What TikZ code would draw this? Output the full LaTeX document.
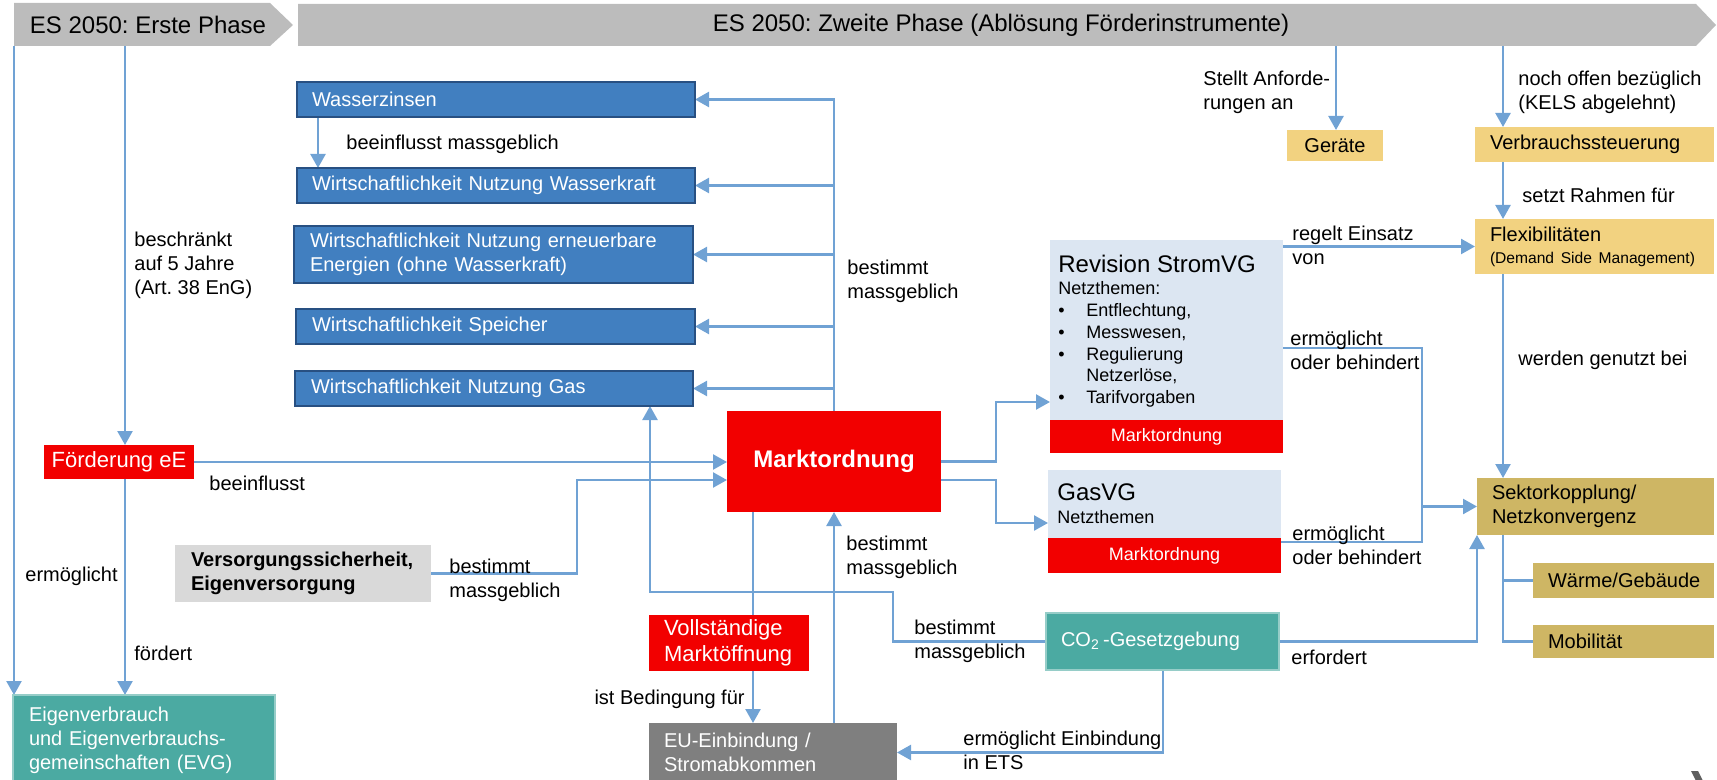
\documentclass[tikz,border=0pt]{standalone}
\usepackage{fontspec}
\setmainfont{Liberation Sans}
\frenchspacing
\usetikzlibrary{arrows.meta,calc,backgrounds}
\definecolor{connc}{RGB}{112,162,212}
\definecolor{boxblue}{RGB}{65,127,192}
\definecolor{boxblueD}{RGB}{40,80,130}
\definecolor{redc}{RGB}{242,0,0}
\definecolor{tealc}{RGB}{75,170,162}
\definecolor{tealB}{RGB}{150,205,200}
\definecolor{lightb}{RGB}{220,230,242}
\definecolor{grayEU}{RGB}{127,127,127}
\definecolor{grayV}{RGB}{217,217,217}
\definecolor{goldL}{RGB}{242,210,128}
\definecolor{goldD}{RGB}{206,182,100}
\definecolor{bannerc}{RGB}{188,188,188}
\definecolor{logoc}{RGB}{95,95,95}
\begin{document}
\begin{tikzpicture}[x=0.5pt,y=-0.5pt,
  conn/.style={draw=connc, line width=1.2pt},
  arr/.style={conn, -{Triangle[length=7pt,width=7.5pt]}},
  bx/.style={anchor=north west, inner sep=0pt, outer sep=0pt, font=\fontsize{10}{12}\selectfont},
  bluebox/.style={bx, fill=boxblue, draw=boxblueD, line width=1pt, text=white, align=left},
  redbox/.style={bx, fill=redc, text=white},
  tealbox/.style={bx, fill=tealc, draw=tealB, line width=1pt, text=white, align=left},
  goldl/.style={bx, fill=goldL, align=left},
  goldd/.style={bx, fill=goldD, align=left},
  lab/.style={anchor=west, inner sep=0pt, align=left, font=\fontsize{10}{12}\selectfont},
]
\useasboundingbox (0,0) rectangle (1717,780);
\clip (0,0) rectangle (1717,780);

% banner
\fill[bannerc] (14,3) -- (270,3) -- (293,25) -- (270,46) -- (14,46) -- cycle;
\fill[bannerc] (298,4) -- (1696,4) -- (1716,25) -- (1696,46) -- (298,46) -- cycle;
\node[font=\fontsize{12}{14}\selectfont, inner sep=0pt] (ph1) at (148,25) {ES 2050: Erste Phase};
\node[font=\fontsize{12}{14}\selectfont, inner sep=0pt] (ph2) at (1001,25) {ES 2050: Zweite Phase (Ablösung Förderinstrumente)};
\coordinate (b1) at (14,46);
\coordinate (b2) at (125,46);
\coordinate (b3) at (1336,46);
\coordinate (b4) at (1503,46);

% blue boxes
\node[bluebox, minimum width=199pt, minimum height=17.5pt, text width=184pt, inner xsep=7.5pt] (wz) at (297,82) {Wasserzinsen};
\node[bluebox, minimum width=199pt, minimum height=17.5pt, text width=184pt, inner xsep=7.5pt] (wk) at (297,168) {Wirtschaftlichkeit Nutzung Wasserkraft};
\node[bluebox, minimum width=199.5pt, minimum height=28.5pt, text width=183.5pt, inner xsep=8pt] (ee) at (294,226) {Wirtschaftlichkeit Nutzung erneuerbare\\Energien (ohne Wasserkraft)};
\node[bluebox, minimum width=199.5pt, minimum height=17.5pt, text width=183.5pt, inner xsep=8pt] (sp) at (296,309) {Wirtschaftlichkeit Speicher};
\node[bluebox, minimum width=199pt, minimum height=17.5pt, text width=183pt, inner xsep=8pt] (gas) at (295,371) {Wirtschaftlichkeit Nutzung Gas};

% left side
\node[redbox, minimum width=75pt, minimum height=17pt, font=\fontsize{11}{13}\selectfont] (fe) at (44,445) {Förderung eE};
\node[tealbox, minimum width=131pt, minimum height=45pt, text width=115pt, inner xsep=8pt] (evg) at (13,695) {Eigenverbrauch\\und Eigenverbrauchs-\\gemeinschaften (EVG)};
\node[bx, fill=grayV, align=left, minimum width=128pt, minimum height=28.5pt, text width=112pt, inner xsep=8pt, font=\fontsize{10}{12}\selectfont\bfseries] (vs) at (175,545) {Versorgungssicherheit,\\Eigenversorgung};

% centre
\node[redbox, minimum width=107pt, minimum height=50.5pt, font=\fontsize{12}{14}\selectfont\bfseries] (mo) at (727,411) {Marktordnung};
\node[redbox, align=left, minimum width=80pt, minimum height=28pt, text width=65pt, inner xsep=7.5pt, font=\fontsize{11}{13}\selectfont] (vm) at (649,615) {Vollständige\\Marktöffnung};
\node[bx, fill=grayEU, text=white, align=left, minimum width=124pt, minimum height=29.5pt, text width=109pt, inner xsep=7.5pt] (eu) at (649,723) {EU-Einbindung /\\Stromabkommen};
\node[tealbox, minimum width=116.5pt, minimum height=28.5pt, text width=101.5pt, inner xsep=7.5pt] (co) at (1046,613) {CO\textsubscript{2}\,-Gesetzgebung};

% StromVG
\node[bx, fill=lightb, minimum width=116.5pt, minimum height=90pt] (svb) at (1050,240) {};
\node[redbox, minimum width=116.5pt, minimum height=16.5pt, font=\fontsize{9}{11}\selectfont] (svr) at (1050,420) {Marktordnung};
\node[anchor=base west, inner sep=0pt, font=\fontsize{12}{14}\selectfont] (svt) at (1058,273) {Revision StromVG};
\node[anchor=base west, inner sep=0pt, font=\fontsize{9}{10.85}\selectfont] (svl) at (1058,295) {\begin{tabular}[t]{@{}p{14pt}@{}l@{}}\multicolumn{2}{@{}l@{}}{Netzthemen:}\\ \textbullet & Entflechtung,\\ \textbullet & Messwesen,\\ \textbullet & Regulierung\\ & Netzerlöse,\\ \textbullet & Tarifvorgaben\end{tabular}};

% GasVG
\node[bx, fill=lightb, minimum width=116.5pt, minimum height=34pt] (gasb) at (1048,470) {};
\node[redbox, minimum width=116.5pt, minimum height=17.5pt, font=\fontsize{9}{11}\selectfont] (gasr) at (1048,538) {Marktordnung};
\node[anchor=base west, inner sep=0pt, font=\fontsize{12}{14}\selectfont] (gast) at (1057,500) {GasVG};
\node[anchor=base west, inner sep=0pt, font=\fontsize{9}{11}\selectfont] (gasn) at (1057,523) {Netzthemen};

% right column
\node[goldl, minimum width=48pt, minimum height=15.5pt] (ge) at (1287,130) {Geräte};
\node[goldl, minimum width=119.5pt, minimum height=17.5pt, text width=104.5pt, inner xsep=7.5pt] (vb) at (1475,127) {Verbrauchssteuerung};
\node[goldl, minimum width=119.5pt, minimum height=27.5pt, text width=104.5pt, inner xsep=7.5pt] (fx) at (1475,219) {Flexibilitäten\\[-1pt]\mbox{\fontsize{7.8}{9}\selectfont (Demand Side Management)}};
\node[goldd, minimum width=118.5pt, minimum height=28.5pt, text width=103.5pt, inner xsep=7.5pt] (sk) at (1477,478) {Sektorkopplung/\\Netzkonvergenz};
\node[goldd, minimum width=90.5pt, minimum height=17.5pt, text width=75.5pt, inner xsep=7.5pt] (wg) at (1533,563) {Wärme/Gebäude};
\node[goldd, minimum width=90.5pt, minimum height=16.5pt, text width=75.5pt, inner xsep=7.5pt] (mb) at (1533,625) {Mobilität};

% helper coordinates
\coordinate (vk) at (577,480);
\coordinate (xa) at (753,0);
\coordinate (g1) at (650,592);
\coordinate (g2) at (893,592);
\coordinate (c3) at (1163,0);
\coordinate (s1) at (996,402);
\coordinate (s2) at (996,523);
\coordinate (m1) at (1422,348);
\coordinate (m2) at (1422,542);

% labels
\node[lab] (l1) at (346,144) {beeinflusst massgeblich};
\node[lab] (l2) at (847,281) {bestimmt\\massgeblich};
\node[lab] (l3) at (134,265) {beschränkt\\auf 5 Jahre\\(Art. 38 EnG)};
\node[lab] (l4) at (209,483) {beeinflusst};
\node[lab] (l5) at (25,576) {ermöglicht};
\node[lab] (l6) at (134,653) {fördert};
\node[lab] (l7) at (449,580) {bestimmt\\massgeblich};
\node[lab] (l8) at (914,641) {bestimmt\\massgeblich};
\node[lab] (l9) at (846,557) {bestimmt\\massgeblich};
\node[lab, anchor=east] (l10) at (745,699) {ist Bedingung für};
\node[lab] (l11) at (963,750) {ermöglicht Einbindung\\in ETS};
\node[lab] (l12) at (1291,657) {erfordert};
\node[lab] (l13) at (1292,245) {regelt Einsatz\\von};
\node[lab] (l14) at (1290,350) {ermöglicht\\oder behindert};
\node[lab] (l15) at (1292,545) {ermöglicht\\oder behindert};
\node[lab] (l16) at (1203,92) {Stellt Anforde-\\rungen an};
\node[lab] (l17) at (1518,92) {noch offen bezüglich\\(KELS abgelehnt)};
\node[lab] (l18) at (1522,195) {setzt Rahmen für};
\node[lab] (l19) at (1518,360) {werden genutzt bei};

% partial logo mark
\fill[logoc] (1691,771) -- (1698,771) -- (1703,781) -- (1696,781) -- cycle;

\begin{scope}[on background layer]
\draw[arr] (b1) -- (b1 |- evg.north);
\draw[arr] (b2) -- (b2 |- fe.north);
\draw[arr] (b2 |- fe.south) -- (b2 |- evg.north);
\draw[arr] (fe.east) -- (fe.east -| mo.west);
\draw[arr] (vs.east) -| (vk) -- (vk -| mo.west);
\draw[arr] ($(wz.south west)+(21,0)$) -- ($(wk.north west)+(21,0)$);
\draw[arr] (mo.north) |- (wz.east);
\foreach \n in {wk,ee,sp,gas} \draw[arr] (mo.north |- \n.east) -- (\n.east);
\draw[arr] (co.west) -- (co.west -| g2) |- (g1) -- (g1 |- gas.south);
\draw[arr] (mo.south -| xa) -- (eu.north -| xa);
\draw[arr] (eu.north -| mo.south) -- (mo.south);
\draw[arr] (co.south -| c3) |- (eu.east);
\draw[arr] (co.east) -| (sk.south west);
\draw[arr] (mo.east) -| (s1) -- (s1 -| svb.west);
\draw[arr] (mo.east |- vk) -| (s2) -- (s2 -| gasb.west);
\draw[arr] (svb.east |- fx.west) -- (fx.west);
\draw[arr] (svb.east |- m1) -- (m1) |- (sk.west);
\draw[conn] (gasr.east |- m2) -- (m2) -- (m2 |- sk.west);
\draw[arr] (b3) -- (b3 |- ge.north);
\draw[arr] (b4) -- (b4 |- vb.north);
\draw[arr] (b4 |- vb.south) -- (b4 |- fx.north);
\draw[arr] (b4 |- fx.south) -- (b4 |- sk.north);
\draw[conn] (b4 |- sk.south) |- (mb.west);
\draw[conn] (b4 |- wg.west) -- (wg.west);
\end{scope}
\end{tikzpicture}
\end{document}
